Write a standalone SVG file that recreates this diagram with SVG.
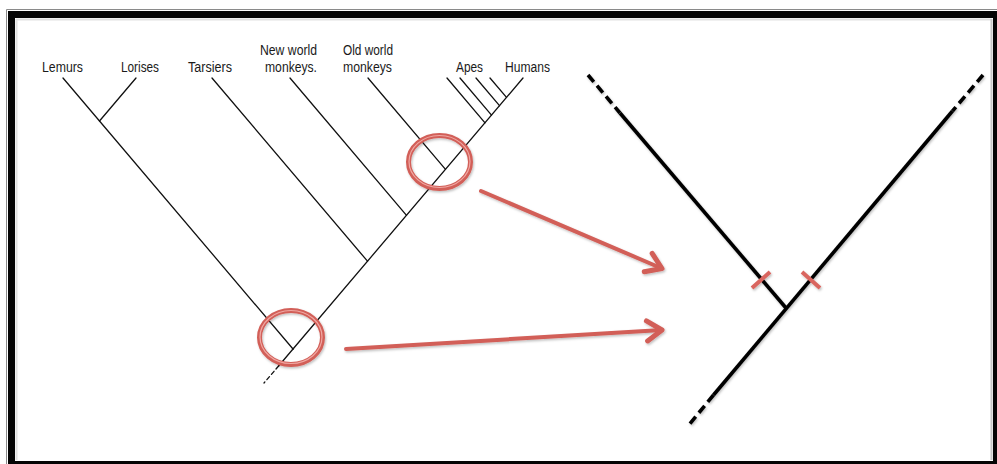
<svg xmlns="http://www.w3.org/2000/svg" width="997" height="464" viewBox="0 0 997 464">
<style>
  .lbl { font-family: "Liberation Sans", Arial, sans-serif; font-size: 14px; fill: #1a1a1a; }
  .tree { stroke: #111; stroke-width: 1.3; fill: none; stroke-linecap: round; }
  .thick { stroke: #000; stroke-width: 3.6; fill: none; stroke-linecap: butt; }
  .dash { stroke-dasharray: 9 5; }
  .tdash { stroke-dasharray: 4 3; }
  .ring { stroke: #d25f58; stroke-width: 5; fill: none; }
  .ringhi { stroke: #f0a8a3; stroke-width: 1.2; fill: none; }
  .arrow { stroke: #d25f58; stroke-width: 4; fill: none; stroke-linecap: round; marker-end: url(#head); }
  .tick { stroke: #d9655e; stroke-width: 4; stroke-linecap: butt; }
</style>
<defs>
  <marker id="head" markerUnits="userSpaceOnUse" markerWidth="30" markerHeight="30" refX="0" refY="0" viewBox="-16 -12 20 24" orient="auto" overflow="visible">
    <path d="M -12 -8 L 0 0 L -12 8" fill="none" stroke="#d25f58" stroke-width="4" stroke-linecap="round" stroke-linejoin="round"/>
  </marker>
  <filter id="sh" x="-20%" y="-20%" width="140%" height="140%">
    <feDropShadow dx="1" dy="1.5" stdDeviation="1.2" flood-color="#000" flood-opacity="0.25"/>
  </filter>
</defs>

<!-- frame -->
<g id="frame">
  <rect x="0" y="0" width="997" height="464" fill="#ffffff"/>
  <path d="M6.5 9.5 H1000 M6.5 9.5 V470" stroke="#8a8a8a" stroke-width="1" fill="none"/>
  <path fill-rule="evenodd" fill="#050505" d="M8 11 H1000 V470 H8 Z M15 18 V461 H993 V18 Z"/>
  <path d="M16 19.5 H992 M16.5 19 V460" stroke="#e2e2e2" stroke-width="2" fill="none"/>
  <path d="M991.5 19 V460" stroke="#c8c8c8" stroke-width="2" fill="none"/>
</g>

<!-- left tree -->
<g id="left-tree">
  <g id="branches" class="tree">
    <line x1="63" y1="78" x2="293" y2="349"/>
    <line x1="523" y1="78" x2="293" y2="349"/>
    <line x1="293" y1="349" x2="278.6" y2="366"/>
    <line x1="278.6" y1="366" x2="264" y2="383" class="tree tdash"/>
    <line x1="136" y1="78" x2="99.5" y2="121"/>
    <line x1="212" y1="78" x2="367.5" y2="261.2"/>
    <line x1="290" y1="78" x2="406.5" y2="215.3"/>
    <line x1="368" y1="78" x2="445.5" y2="169.3"/>
    <line x1="447" y1="78" x2="485" y2="122.8"/>
    <line x1="460" y1="78" x2="491.5" y2="115.1"/>
    <line x1="476" y1="78" x2="499.5" y2="105.7"/>
    <line x1="490" y1="78" x2="506.5" y2="97.4"/>
  </g>
  <g id="node-lemurs"><text class="lbl" x="42" y="72" textLength="41" lengthAdjust="spacingAndGlyphs">Lemurs</text></g>
  <g id="node-lorises"><text class="lbl" x="121" y="72" textLength="38" lengthAdjust="spacingAndGlyphs">Lorises</text></g>
  <g id="node-tarsiers"><text class="lbl" x="188" y="72" textLength="44" lengthAdjust="spacingAndGlyphs">Tarsiers</text></g>
  <g id="node-nwm">
    <text class="lbl" x="260" y="54.5" textLength="57" lengthAdjust="spacingAndGlyphs">New world</text>
    <text class="lbl" x="265" y="72" textLength="52" lengthAdjust="spacingAndGlyphs">monkeys.</text>
  </g>
  <g id="node-owm">
    <text class="lbl" x="343" y="54.5" textLength="50" lengthAdjust="spacingAndGlyphs">Old world</text>
    <text class="lbl" x="343" y="72" textLength="49" lengthAdjust="spacingAndGlyphs">monkeys</text>
  </g>
  <g id="node-apes"><text class="lbl" x="456" y="72" textLength="27" lengthAdjust="spacingAndGlyphs">Apes</text></g>
  <g id="node-humans"><text class="lbl" x="505" y="72" textLength="45" lengthAdjust="spacingAndGlyphs">Humans</text></g>
</g>

<!-- highlight circles -->
<g id="highlights" filter="url(#sh)">
  <g id="circle-upper">
    <ellipse class="ring" cx="439.5" cy="162" rx="31" ry="26.5"/>
    <ellipse class="ringhi" cx="439.5" cy="161.5" rx="30.5" ry="26"/>
  </g>
  <g id="circle-lower">
    <ellipse class="ring" cx="291" cy="337.5" rx="31.5" ry="27"/>
    <ellipse class="ringhi" cx="291" cy="337" rx="31" ry="26.5"/>
  </g>
</g>

<!-- connectors -->
<g id="connectors" filter="url(#sh)">
  <line class="arrow" x1="481" y1="191" x2="662" y2="268.5"/>
  <line class="arrow" x1="346" y1="349" x2="662" y2="330"/>
</g>

<!-- right tree -->
<g id="right-tree" filter="url(#sh)">
  <line class="thick dash" x1="588" y1="75" x2="620" y2="113"/>
  <line class="thick" x1="620" y1="113" x2="786" y2="308"/>
  <line class="thick dash" x1="983" y1="75" x2="952.5" y2="111"/>
  <line class="thick" x1="952.5" y1="111" x2="713.5" y2="395"/>
  <line class="thick dash" x1="713.5" y1="395" x2="688" y2="426"/>
  <line class="tick" x1="752" y1="288" x2="770" y2="272"/>
  <line class="tick" x1="802" y1="272" x2="820" y2="288"/>
</g>
</svg>
